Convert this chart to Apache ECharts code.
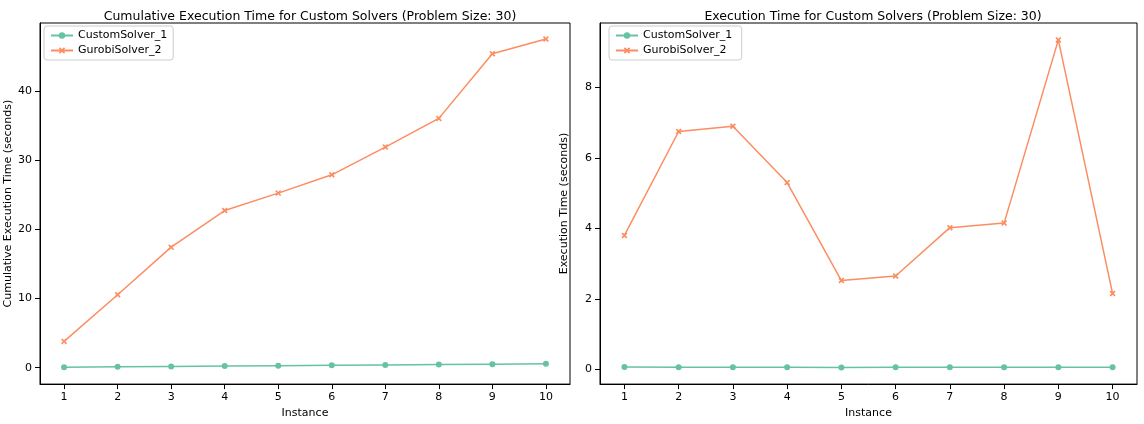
<!DOCTYPE html>
<html><head><meta charset="utf-8">
<script src="https://cdn.jsdelivr.net/npm/echarts@6/dist/echarts.min.js"></script>
<style>body{margin:0}#c{width:1144px;height:424px}</style></head>
<body><div id="c"></div>
<script>
const instances=[1,2,3,4,5,6,7,8,9,10];
const customTimes=[0.065,0.06,0.055,0.055,0.05,0.055,0.055,0.06,0.055,0.055];
const gurobiTimes=[3.8,6.75,6.9,5.3,2.52,2.65,4.02,4.15,9.35,2.15];
const leftTicks=[0,10,20,30,40,50];
const rightTicks=[0,2,4,6,8];
function cum(a){let s=0;return a.map(v=>s+=v);}
const customCum=cum(customTimes), gurobiCum=cum(gurobiTimes);
const C1='#66c2a5',C2='#fc8d62';
const xPath='path://M0,0L1,1M1,0L0,1';
const xSym='path://M0.2,0L0.5,0.3L0.8,0L1,0.2L0.7,0.5L1,0.8L0.8,1L0.5,0.7L0.2,1L0,0.8L0.3,0.5L0,0.2Z';
const font={fontFamily:'DejaVu Sans',color:'#000'};
function xAx(i){return {type:'value',gridIndex:i,min:0.55,max:10.45,name:'Instance',nameLocation:'middle',nameGap:22,
 nameTextStyle:{...font,fontSize:11},axisLine:{onZero:false,lineStyle:{color:'#000'}},splitLine:{show:false},
 axisTick:{customValues:instances,lineStyle:{color:'#000'}},axisLabel:{customValues:instances,...font,fontSize:11}};}
function yAx(i,min,max,ticks,name){return {type:'value',gridIndex:i,min,max,name,nameLocation:'middle',nameGap:i?30:26,
 nameTextStyle:{...font,fontSize:11},axisLine:{show:true,lineStyle:{color:'#000'}},splitLine:{show:false},
 axisTick:{show:true,customValues:ticks,lineStyle:{color:'#000'}},axisLabel:{customValues:ticks,...font,fontSize:11}};}
function ser(i,data,name,color,sym){return {type:'line',name,xAxisIndex:i,yAxisIndex:i,data:instances.map((x,k)=>[x,data[k]]),
 symbol:sym,symbolSize:sym==='circle'?6:6,showAllSymbol:true,lineStyle:{color,width:1.5},itemStyle:{color},color};}
const chart=echarts.init(document.getElementById('c'));
chart.setOption({animation:false,
 title:[{text:'Cumulative Execution Time for Custom Solvers (Problem Size: 30)',left:305,top:5,textAlign:'center',textStyle:{...font,fontSize:12.5,fontWeight:'normal'}},
  {text:'Execution Time for Custom Solvers (Problem Size: 30)',left:868,top:5,textAlign:'center',textStyle:{...font,fontSize:12.5,fontWeight:'normal'}}],
 legend:[{left:44,top:26,orient:'vertical',itemGap:4,padding:[4,6],borderColor:'#ccc',borderWidth:1,borderRadius:3,itemWidth:22,itemHeight:8,textStyle:{...font,fontSize:11},data:['CustomSolver_1','GurobiSolver_2']},
  {left:609,top:26,orient:'vertical',itemGap:4,padding:[4,6],borderColor:'#ccc',borderWidth:1,borderRadius:3,itemWidth:22,itemHeight:8,textStyle:{...font,fontSize:11},data:['CustomSolver_1 ','GurobiSolver_2 ']}],
 grid:[{left:40,right:574,top:23,bottom:38,show:true,borderColor:'#000'},{left:600,right:7,top:23,bottom:38,show:true,borderColor:'#000'}],
 xAxis:[xAx(0),xAx(1)],
 yAxis:[yAx(0,-2.38,49.9,leftTicks,'Cumulative Execution Time (seconds)'),yAx(1,-0.42,9.83,rightTicks,'Execution Time (seconds)')],
 series:[ser(0,customCum,'CustomSolver_1',C1,'circle'),ser(0,gurobiCum,'GurobiSolver_2',C2,xSym),
  ser(1,customTimes,'CustomSolver_1 ',C1,'circle'),ser(1,gurobiTimes,'GurobiSolver_2 ',C2,xSym)]
});
</script></body></html>
